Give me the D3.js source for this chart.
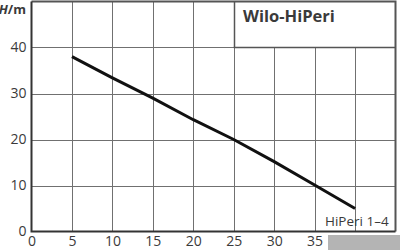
<!DOCTYPE html>
<html><head><meta charset="utf-8">
<script src="https://cdn.jsdelivr.net/npm/d3@7"></script>
<style>body{margin:0;background:#fff}svg{display:block}text{font-family:"Open Sans",sans-serif;fill:#3a3a3a}</style>
</head><body><svg id="c" width="400" height="250"></svg>
<script>
const flow = [5, 10, 15, 20, 25, 30, 35, 40];
const head = [38, 33.4, 29, 24.3, 20, 15.2, 10.1, 5];
const xTicks = [0, 5, 10, 15, 20, 25, 30, 35, 40];
const yTicks = [0, 10, 20, 30, 40];
const xGrid = [5, 10, 15, 20, 25, 30, 35, 40];
const yGrid = [10, 20, 30, 40];
const title = "Wilo-HiPeri";
const curveLabel = "HiPeri 1–4";
const yUnit = "H/m";

const svg = d3.select("#c");
const x = d3.scaleLinear().domain([0, 45]).range([31.5, 395.5]);
const y = d3.scaleLinear().domain([0, 50]).range([231.5, 1.5]);

const g = svg.append("g");
// grid
g.selectAll(".vx").data(xGrid).join("line")
  .attr("x1", d => Math.round(x(d)) + 0.5).attr("x2", d => Math.round(x(d)) + 0.5)
  .attr("y1", d => d >= 25 ? y(40) : y(50)).attr("y2", y(0))
  .attr("stroke", "#707070").attr("stroke-width", 1);
g.selectAll(".hy").data(yGrid).join("line")
  .attr("x1", x(0)).attr("x2", x(45))
  .attr("y1", d => Math.round(y(d)) + 0.5).attr("y2", d => Math.round(y(d)) + 0.5)
  .attr("stroke", "#707070").attr("stroke-width", 1);
// title box
g.append("line").attr("x1", Math.round(x(25)) + 0.5).attr("x2", Math.round(x(25)) + 0.5)
  .attr("y1", y(50)).attr("y2", y(40)).attr("stroke", "#555").attr("stroke-width", 1.5);
g.append("line").attr("x1", x(25)).attr("x2", x(45))
  .attr("y1", Math.round(y(40)) + 0.5).attr("y2", Math.round(y(40)) + 0.5)
  .attr("stroke", "#555").attr("stroke-width", 1.5);
// border
g.append("path")
  .attr("d", `M${x(0)},${y(50)}H${x(45)}V${y(0)}`)
  .attr("fill", "none").attr("stroke", "#555").attr("stroke-width", 2);
g.append("path")
  .attr("d", `M${x(0)},${y(50)}V${y(0)}H${x(45)}`)
  .attr("fill", "none").attr("stroke", "#333").attr("stroke-width", 2);

// axes labels
const xa = svg.append("g").attr("transform", `translate(0,${y(0)})`)
  .call(d3.axisBottom(x).tickValues(xTicks).tickSize(0).tickPadding(5).tickFormat(d3.format("d")));
xa.select(".domain").remove();
xa.selectAll("text").attr("font-size", 14).attr("font-family", "Open Sans").attr("fill", "#3a3a3a");
const ya = svg.append("g").attr("transform", `translate(${x(0)},0)`)
  .call(d3.axisLeft(y).tickValues(yTicks).tickSize(0).tickPadding(5).tickFormat(d3.format("d")));
ya.select(".domain").remove();
ya.selectAll("text").attr("font-size", 14).attr("font-family", "Open Sans").attr("fill", "#3a3a3a");

// curve
svg.append("path").datum(flow.map((f, i) => [f, head[i]]))
  .attr("d", d3.line().x(d => x(d[0])).y(d => y(d[1])))
  .attr("fill", "none").attr("stroke", "#111").attr("stroke-width", 3);

// texts
svg.append("text").attr("x", 243).attr("y", 21.5).attr("font-size", 16.5).attr("font-weight", "bold")
  .text(title);
svg.append("text").attr("x", 325).attr("y", 226).attr("font-size", 13.5).text(curveLabel);
const hm = svg.append("text").attr("x", 26).attr("y", 14).attr("text-anchor", "end")
  .attr("font-size", 13).attr("font-weight", "bold");
hm.append("tspan").attr("font-style", "italic").text(yUnit.split("/")[0]);
hm.append("tspan").text("/" + yUnit.split("/")[1]);

// watermark block
svg.append("rect").attr("x", 328).attr("y", 235).attr("width", 72).attr("height", 15).attr("fill", "#b4b4b4");
</script></body></html>
